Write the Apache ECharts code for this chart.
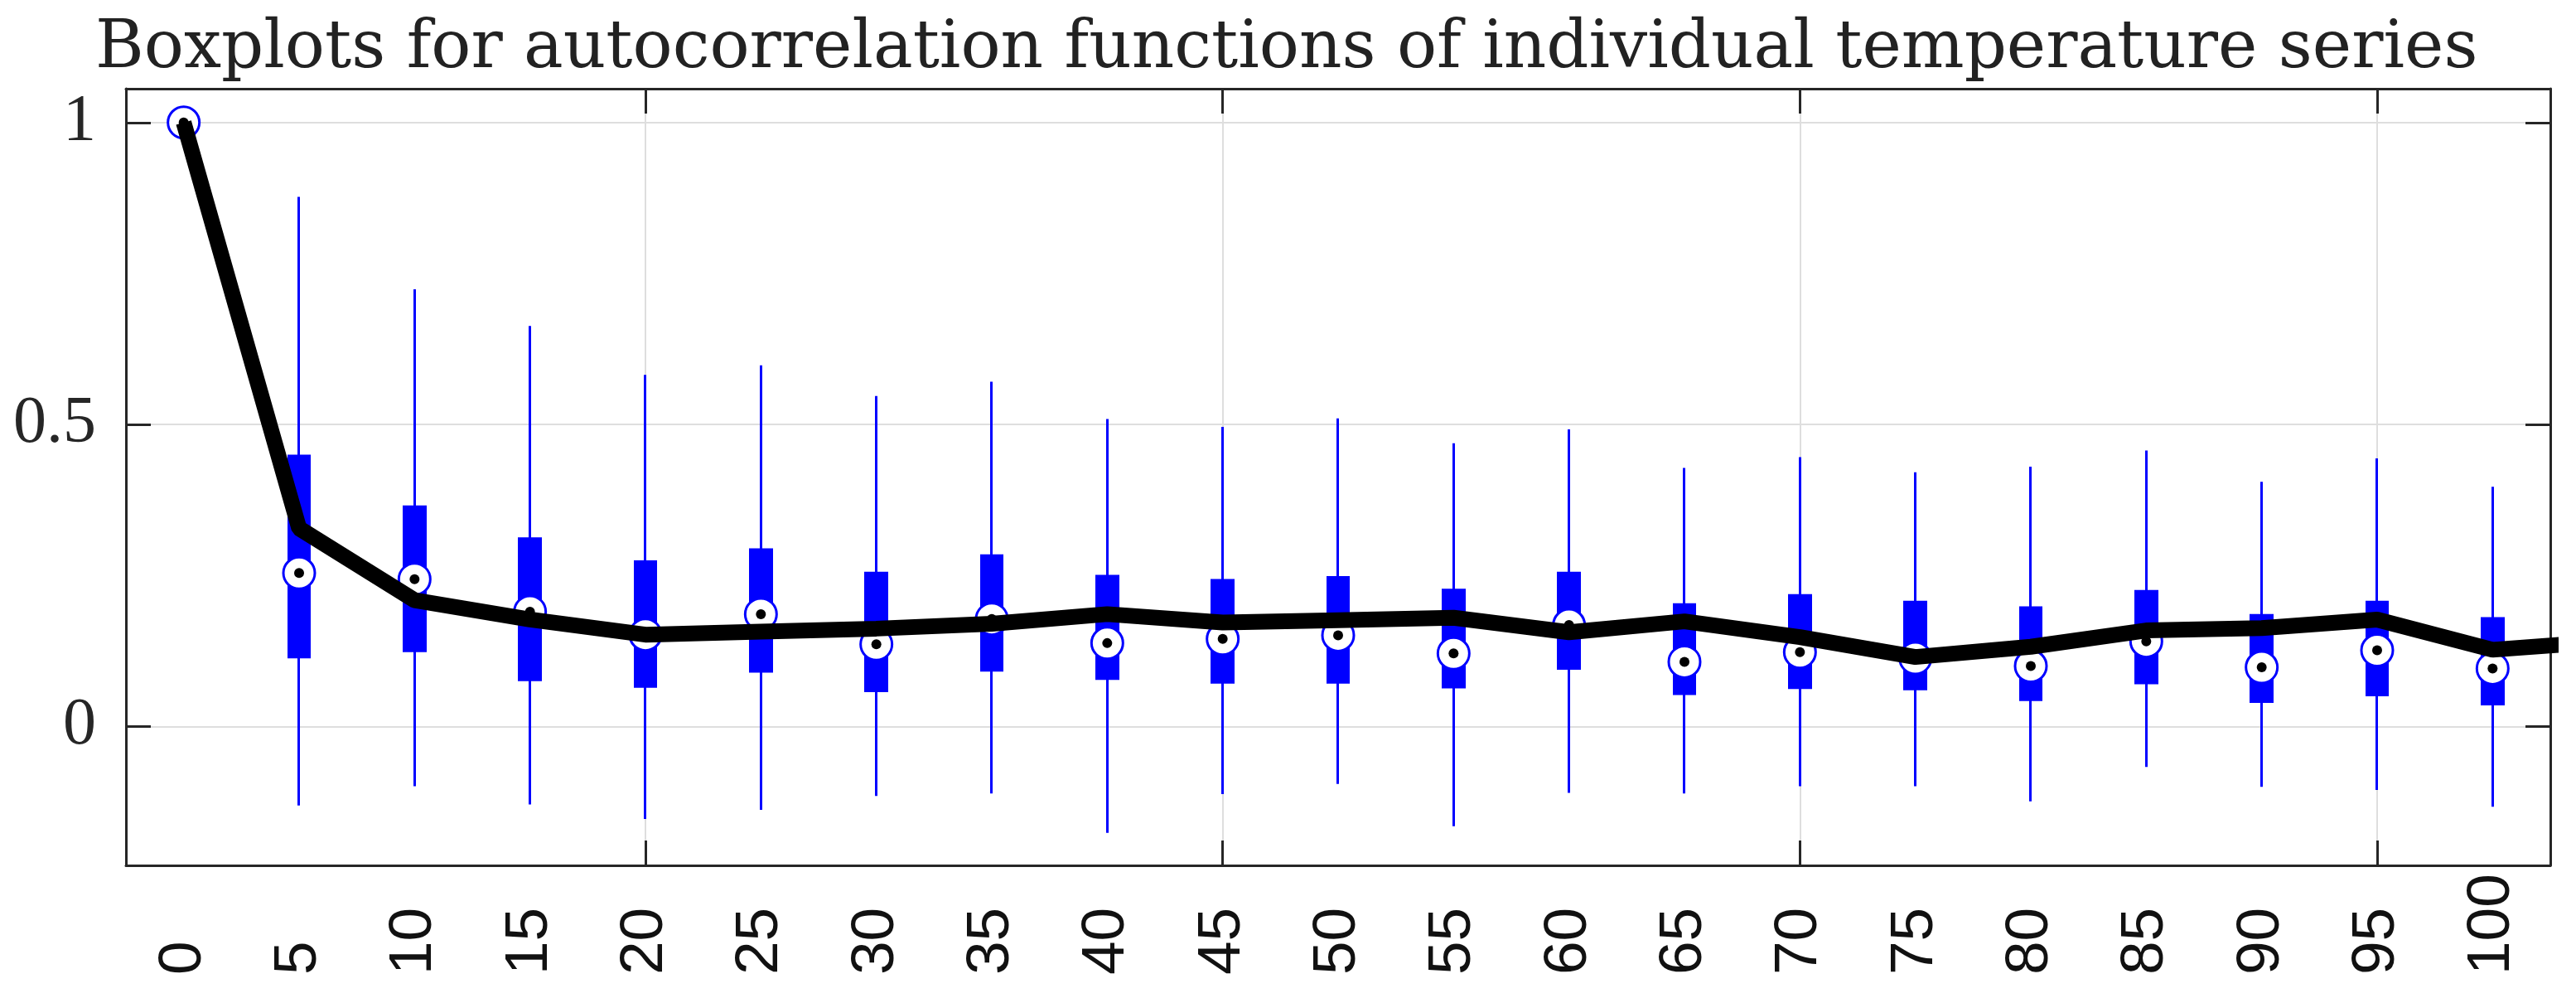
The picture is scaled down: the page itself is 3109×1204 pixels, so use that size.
<!DOCTYPE html>
<html>
<head>
<meta charset="utf-8">
<script src="https://cdn.jsdelivr.net/npm/echarts@6/dist/echarts.min.js"></script>
<style>
  html, body { margin: 0; padding: 0; background: #fff; }
  #chart { width: 3109px; height: 1204px; }
</style>
</head>
<body>
<div id="chart"></div>
<script>
// lags shown on the x axis
const lags = ['0', '5', '10', '15', '20', '25', '30', '35', '40', '45', '50',
  '55', '60', '65', '70', '75', '80', '85', '90', '95', '100'];

// boxplot statistics per lag (lag 0 has no spread)
const whiskerLow = [null, -0.131, -0.099, -0.129, -0.153, -0.138, -0.115, -0.111, -0.176, -0.112, -0.095,
  -0.165, -0.110, -0.111, -0.099, -0.099, -0.124, -0.067, -0.100, -0.105, -0.133];
const q1 = [null, 0.115, 0.125, 0.077, 0.066, 0.091, 0.059, 0.093, 0.079, 0.073, 0.073,
  0.065, 0.096, 0.054, 0.064, 0.062, 0.044, 0.072, 0.041, 0.052, 0.037];
const medians = [1, 0.254, 0.244, 0.190, 0.152, 0.186, 0.136, 0.178, 0.138, 0.145, 0.151,
  0.121, 0.168, 0.107, 0.123, 0.113, 0.100, 0.141, 0.098, 0.126, 0.096];
const q3 = [null, 0.448, 0.364, 0.311, 0.273, 0.293, 0.254, 0.283, 0.249, 0.242, 0.247,
  0.226, 0.254, 0.202, 0.217, 0.206, 0.197, 0.224, 0.184, 0.206, 0.179];
const whiskerHigh = [null, 0.877, 0.724, 0.663, 0.582, 0.598, 0.547, 0.571, 0.509, 0.496, 0.510,
  0.469, 0.492, 0.428, 0.446, 0.421, 0.430, 0.457, 0.405, 0.444, 0.397];

// mean autocorrelation (black line), runs one step past the last box
const meanLags = [0, 5, 10, 15, 20, 25, 30, 35, 40, 45, 50, 55, 60, 65, 70, 75, 80, 85, 90, 95, 100, 105];
const meanAcf = [1.0, 0.328, 0.209, 0.177, 0.152, 0.157, 0.162, 0.170, 0.186, 0.172, 0.176,
  0.180, 0.156, 0.174, 0.148, 0.115, 0.132, 0.159, 0.163, 0.177, 0.127, 0.141];

const yTicks = [0, 0.5, 1];
const xGridLags = [20, 45, 70, 95];

const BLUE = '#0000ff';
const AXIS = '#262626';
const GRID = '#dedede';

const boxData = lags.map((_, i) =>
  q1[i] == null ? ['-', '-', '-', '-'] : [q1[i], q3[i], whiskerLow[i], whiskerHigh[i]]);
const meanData = meanLags.map((l, i) => [l, meanAcf[i]]);

const chart = echarts.init(document.getElementById('chart'));

const frameAxis = {
  type: 'value',
  min: -2.5,
  max: 102.5,
  axisLine: { show: true, onZero: false, lineStyle: { color: AXIS, width: 3 } },
  axisTick: { show: true, inside: true, length: 30, customValues: xGridLags, lineStyle: { color: AXIS, width: 3 } },
  axisLabel: { show: false },
};

chart.setOption({
  animation: false,
  backgroundColor: '#fff',
  title: {
    text: 'Boxplots for autocorrelation functions of individual temperature series',
    left: 110,
    top: 15,
    textStyle: { fontFamily: 'DejaVu Serif', fontSize: 80, fontWeight: 'normal', color: '#222' }
  },
  grid: { left: 152, right: 31, top: 107, bottom: 160, containLabel: false },
  xAxis: [
    {
      type: 'category',
      data: lags,
      boundaryGap: true,
      position: 'bottom',
      axisLine: { show: false, onZero: false },
      axisTick: { show: false },
      splitLine: { show: false },
      axisLabel: {
        rotate: 90,
        align: 'left',
        verticalAlign: 'middle',
        margin: 132,
        interval: 0,
        fontFamily: 'Liberation Sans',
        fontSize: 73,
        color: '#111'
      }
    },
    Object.assign({}, frameAxis, {
      position: 'bottom',
      splitLine: { show: true, lineStyle: { color: GRID, width: 2 } }
    }),
    Object.assign({}, frameAxis, { position: 'top', splitLine: { show: false } })
  ],
  yAxis: [
    {
      type: 'value',
      min: -0.23,
      max: 1.056,
      position: 'left',
      axisLine: { show: true, onZero: false, lineStyle: { color: AXIS, width: 3 } },
      axisTick: { show: true, inside: true, length: 30, customValues: yTicks, lineStyle: { color: AXIS, width: 3 } },
      axisLabel: {
        customValues: yTicks,
        margin: 36,
        fontFamily: 'Liberation Serif',
        fontSize: 80,
        color: AXIS,
        formatter: v => String(v)
      },
      splitLine: { show: true, lineStyle: { color: GRID, width: 2 } }
    },
    {
      type: 'value',
      min: -0.23,
      max: 1.056,
      position: 'right',
      axisLine: { show: true, onZero: false, lineStyle: { color: AXIS, width: 3 } },
      axisTick: { show: true, inside: true, length: 30, customValues: yTicks, lineStyle: { color: AXIS, width: 3 } },
      axisLabel: { show: false },
      splitLine: { show: false }
    }
  ],
  series: [
    {
      type: 'candlestick',
      xAxisIndex: 0,
      yAxisIndex: 0,
      data: boxData,
      barWidth: 26,
      barMaxWidth: 40,
      itemStyle: {
        color: BLUE, color0: BLUE,
        borderColor: BLUE, borderColor0: BLUE,
        borderWidth: 3
      },
      z: 2
    },
    {
      type: 'scatter',
      xAxisIndex: 0,
      yAxisIndex: 0,
      data: medians,
      symbol: 'circle',
      symbolSize: 38,
      itemStyle: { color: '#fff', borderColor: BLUE, borderWidth: 3, opacity: 1 },
      z: 3
    },
    {
      type: 'scatter',
      xAxisIndex: 0,
      yAxisIndex: 0,
      data: medians,
      symbol: 'circle',
      symbolSize: 12,
      itemStyle: { color: '#000', opacity: 1 },
      z: 4
    },
    {
      type: 'line',
      xAxisIndex: 1,
      yAxisIndex: 0,
      data: meanData,
      showSymbol: false,
      clip: true,
      lineStyle: { color: '#000', width: 19 },
      z: 5
    }
  ]
});
</script>
</body>
</html>
